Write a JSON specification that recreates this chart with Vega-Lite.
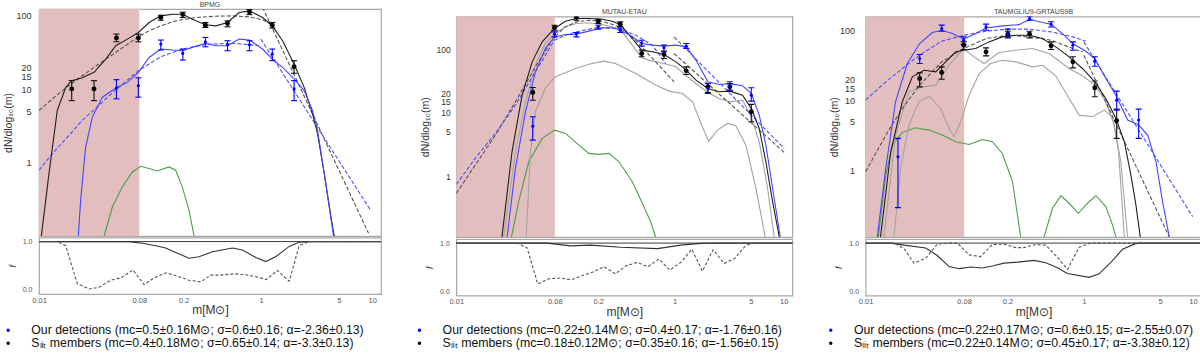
{
"$schema": "https://vega.github.io/schema/vega-lite/v6.json",
"padding": {"left": 2, "top": 0, "right": 0, "bottom": 0},
"spacing": 29.3,
"resolve": {"scale": {"fill": "independent"}, "legend": {"fill": "independent"}},
"config": {
  "view": {"stroke": "#a8a8a8", "strokeWidth": 1.2},
  "font": "Liberation Sans",
  "axis": {"grid": false, "ticks": false, "domain": false, "labelFont": "Liberation Sans", "titleFont": "Liberation Sans", "titleFontWeight": "normal", "labelOverlap": false, "labelFlush": false, "titleColor": "#333", "labelColor": "#333"},
  "title": {"font": "Liberation Sans", "fontWeight": "normal", "color": "#444", "fontSize": 7},
  "legend": {"orient": "none", "legendX": -43, "legendY": 315, "direction": "vertical", "symbolType": "circle", "symbolSize": 12, "symbolStrokeWidth": 0, "labelFont": "Liberation Sans", "labelFontSize": 12.3, "labelColor": "#111", "labelOffset": 17, "rowPadding": -8.5, "labelLimit": 600, "title": null}
},
"datasets": {
"shade": [{"x0": 0.01, "x1": 0.08}],
"p1": [
{"g":"lit","m":0.0197,"v":10.1,"lo":7.0,"hi":13.1},
{"g":"lit","m":0.0313,"v":10.1,"lo":7.0,"hi":13.1},
{"g":"lit","m":0.0498,"v":49.8,"lo":44.4,"hi":56.4},
{"g":"lit","m":0.0785,"v":49.8,"lo":44.4,"hi":56.4},
{"g":"lit","m":0.125,"v":94.9,"lo":87.3,"hi":102},
{"g":"lit","m":0.197,"v":104,"lo":94.9,"hi":112},
{"g":"lit","m":0.315,"v":74.6,"lo":69.5,"hi":81.2},
{"g":"lit","m":0.498,"v":78.8,"lo":70.9,"hi":85.5},
{"g":"lit","m":0.785,"v":113,"lo":104,"hi":122},
{"g":"lit","m":1.26,"v":74.6,"lo":68.1,"hi":81.2},
{"g":"lit","m":1.98,"v":20.3,"lo":16.5,"hi":24.5},
{"g":"ours","m":0.0498,"v":10.4,"lo":7.4,"hi":13.5},
{"g":"ours","m":0.0785,"v":11.2,"lo":7.8,"hi":14.3},
{"g":"ours","m":0.125,"v":41.2,"lo":34.2,"hi":46.8},
{"g":"ours","m":0.197,"v":30.8,"lo":25.0,"hi":35.3},
{"g":"ours","m":0.315,"v":44.4,"lo":37.9,"hi":50.8},
{"g":"ours","m":0.498,"v":40.4,"lo":33.5,"hi":45.8},
{"g":"ours","m":0.785,"v":40.4,"lo":33.5,"hi":45.8},
{"g":"ours","m":1.26,"v":30.2,"lo":24.5,"hi":35.3},
{"g":"ours","m":1.98,"v":10.1,"lo":7.0,"hi":13.1}
],
"p2": [
{"g":"lit","m":0.0502,"v":20.9,"lo":15.8,"hi":25.1},
{"g":"lit","m":0.0794,"v":222,"lo":202,"hi":242},
{"g":"lit","m":0.126,"v":320,"lo":290,"hi":345},
{"g":"lit","m":0.2,"v":280,"lo":257,"hi":301},
{"g":"lit","m":0.318,"v":251,"lo":231,"hi":273},
{"g":"lit","m":0.5,"v":86.5,"lo":76.6,"hi":97.6},
{"g":"lit","m":0.8,"v":83.4,"lo":72.1,"hi":94.1},
{"g":"lit","m":1.28,"v":46.0,"lo":40.3,"hi":53.2},
{"g":"lit","m":2.02,"v":25.8,"lo":20.9,"hi":29.0},
{"g":"lit","m":3.21,"v":25.8,"lo":22.0,"hi":29.0},
{"g":"lit","m":5.05,"v":10.4,"lo":7.2,"hi":13.6},
{"g":"ours","m":0.0502,"v":6.15,"lo":3.7,"hi":8.65},
{"g":"ours","m":0.0794,"v":175,"lo":158,"hi":190},
{"g":"ours","m":0.126,"v":175,"lo":158,"hi":185},
{"g":"ours","m":0.2,"v":228,"lo":210,"hi":242},
{"g":"ours","m":0.318,"v":202,"lo":185,"hi":220},
{"g":"ours","m":0.5,"v":127,"lo":113,"hi":140},
{"g":"ours","m":0.8,"v":107,"lo":91.9,"hi":117},
{"g":"ours","m":1.28,"v":113,"lo":104,"hi":124},
{"g":"ours","m":2.02,"v":24.2,"lo":20.2,"hi":29.0},
{"g":"ours","m":3.21,"v":26.7,"lo":22.8,"hi":30.9},
{"g":"ours","m":5.05,"v":19.0,"lo":15.3,"hi":24.8}
],
"p3": [
{"g":"lit","m":0.0313,"v":20.7,"lo":15.7,"hi":24.9},
{"g":"lit","m":0.0498,"v":25.2,"lo":20.2,"hi":30.4},
{"g":"lit","m":0.0792,"v":62.2,"lo":54.0,"hi":69.5},
{"g":"lit","m":0.127,"v":50.0,"lo":43.7,"hi":57.0},
{"g":"lit","m":0.201,"v":89.6,"lo":79.4,"hi":98.9},
{"g":"lit","m":0.318,"v":89.6,"lo":79.4,"hi":98.9},
{"g":"lit","m":0.501,"v":61.0,"lo":54.0,"hi":69.5},
{"g":"lit","m":0.793,"v":35.9,"lo":29.4,"hi":42.4},
{"g":"lit","m":1.26,"v":15.2,"lo":11.3,"hi":19.0},
{"g":"lit","m":2.0,"v":5.1,"lo":2.85,"hi":7.5},
{"g":"ours","m":0.0198,"v":1.55,"lo":0.288,"hi":2.85},
{"g":"ours","m":0.0313,"v":40.1,"lo":34.0,"hi":45.7},
{"g":"ours","m":0.0498,"v":108,"lo":98.9,"hi":121},
{"g":"ours","m":0.0792,"v":73.5,"lo":63.7,"hi":82},
{"g":"ours","m":0.127,"v":114,"lo":102,"hi":125},
{"g":"ours","m":0.201,"v":91.6,"lo":82,"hi":106},
{"g":"ours","m":0.318,"v":150,"lo":142,"hi":161},
{"g":"ours","m":0.501,"v":125,"lo":114,"hi":135},
{"g":"ours","m":0.793,"v":62.2,"lo":52.7,"hi":69.5},
{"g":"ours","m":1.26,"v":36.7,"lo":31.1,"hi":42.4},
{"g":"ours","m":2.0,"v":10.1,"lo":7.26,"hi":13.6},
{"g":"ours","m":3.18,"v":5.22,"lo":2.85,"hi":7.5}
],
"c1": [
{"k":"bs","m":0.0105,"v":0.1},{"k":"bs","m":0.0123,"v":0.71},{"k":"bs","m":0.0146,"v":5.13},{"k":"bs","m":0.0174,"v":10.6},{"k":"bs","m":0.0197,"v":13.1},{"k":"bs","m":0.0245,"v":14.3},{"k":"bs","m":0.0313,"v":17.0},{"k":"bs","m":0.0399,"v":25.8},{"k":"bs","m":0.0491,"v":39.2},{"k":"bs","m":0.0625,"v":48.2},{"k":"bs","m":0.0785,"v":59.4},{"k":"bs","m":0.098,"v":81.2},{"k":"bs","m":0.125,"v":100},{"k":"bs","m":0.159,"v":105},{"k":"bs","m":0.197,"v":105},{"k":"bs","m":0.24,"v":90.1},{"k":"bs","m":0.315,"v":75.5},{"k":"bs","m":0.391,"v":73.1},{"k":"bs","m":0.498,"v":81.2},{"k":"bs","m":0.634,"v":111},{"k":"bs","m":0.785,"v":117},{"k":"bs","m":1.03,"v":94.9},{"k":"bs","m":1.26,"v":73.1},{"k":"bs","m":1.56,"v":45.8},{"k":"bs","m":1.98,"v":22.1},{"k":"bs","m":2.44,"v":10.6},{"k":"bs","m":2.9,"v":4.62},{"k":"bs","m":3.22,"v":2.48},{"k":"bs","m":3.7,"v":0.71},{"k":"bs","m":4.25,"v":0.183},{"k":"bs","m":4.55,"v":0.1},
{"k":"us","m":0.0226,"v":0.1},{"k":"us","m":0.0237,"v":0.308},{"k":"us","m":0.0263,"v":1.63},{"k":"us","m":0.0302,"v":4.17},{"k":"us","m":0.0372,"v":7.78},{"k":"us","m":0.0491,"v":10.4},{"k":"us","m":0.0625,"v":12.4},{"k":"us","m":0.0785,"v":17.0},{"k":"us","m":0.098,"v":27.1},{"k":"us","m":0.125,"v":35.3},{"k":"us","m":0.159,"v":34.2},{"k":"us","m":0.197,"v":33.5},{"k":"us","m":0.24,"v":37.2},{"k":"us","m":0.315,"v":42.1},{"k":"us","m":0.391,"v":39.2},{"k":"us","m":0.498,"v":39.2},{"k":"us","m":0.634,"v":48.2},{"k":"us","m":0.785,"v":46.8},{"k":"us","m":1.03,"v":35.3},{"k":"us","m":1.26,"v":25.8},{"k":"us","m":1.56,"v":19.9},{"k":"us","m":1.98,"v":13.8},{"k":"us","m":2.44,"v":9.6},{"k":"us","m":2.9,"v":5.13},{"k":"us","m":3.22,"v":2.75},{"k":"us","m":3.7,"v":0.71},{"k":"us","m":4.1,"v":0.25},{"k":"us","m":4.49,"v":0.1},
{"k":"bd","m":0.01,"v":5.13},{"k":"bd","m":0.0132,"v":7.39},{"k":"bd","m":0.0174,"v":10.4},{"k":"bd","m":0.0245,"v":15.3},{"k":"bd","m":0.0347,"v":22.1},{"k":"bd","m":0.0491,"v":31.8},{"k":"bd","m":0.0785,"v":51.9},{"k":"bd","m":0.098,"v":62.5},{"k":"bd","m":0.125,"v":73.1},{"k":"bd","m":0.159,"v":83.0},{"k":"bd","m":0.197,"v":89.1},{"k":"bd","m":0.276,"v":95.9},{"k":"bd","m":0.391,"v":98.9},{"k":"bd","m":0.552,"v":100},{"k":"bd","m":0.78,"v":96.9},{"k":"bd","m":1.03,"v":88.3},{"k":"bd","m":1.26,"v":75.5},
{"k":"bp","m":1.03,"v":130},{"k":"bp","m":9.27,"v":0.109},
{"k":"ud","m":0.01,"v":0.787},{"k":"ud","m":0.0132,"v":1.32},{"k":"ud","m":0.0245,"v":3.76},{"k":"ud","m":0.0491,"v":9.8},{"k":"ud","m":0.0785,"v":17.9},{"k":"ud","m":0.125,"v":27.8},{"k":"ud","m":0.197,"v":35.3},{"k":"ud","m":0.318,"v":40.8},{"k":"ud","m":0.552,"v":42.5},{"k":"ud","m":0.959,"v":39.2},
{"k":"up","m":0.993,"v":48.2},{"k":"up","m":9.73,"v":0.221},
{"k":"g","m":0.0386,"v":0.1},{"k":"g","m":0.0458,"v":0.25},{"k":"g","m":0.0563,"v":0.468},{"k":"g","m":0.0693,"v":0.746},{"k":"g","m":0.0824,"v":0.891},{"k":"g","m":0.098,"v":0.83},{"k":"g","m":0.116,"v":0.77},{"k":"g","m":0.148,"v":0.873},{"k":"g","m":0.17,"v":0.787},{"k":"g","m":0.195,"v":0.468},{"k":"g","m":0.224,"v":0.225},{"k":"g","m":0.249,"v":0.1}
],
"c2": [
{"k":"bs","m":0.0262,"v":0.109},{"k":"bs","m":0.0324,"v":2.42},{"k":"bs","m":0.0401,"v":19.0},{"k":"bs","m":0.0496,"v":63.8},{"k":"bs","m":0.0612,"v":132},{"k":"bs","m":0.0794,"v":215},{"k":"bs","m":0.1,"v":280},{"k":"bs","m":0.126,"v":308},{"k":"bs","m":0.164,"v":308},{"k":"bs","m":0.218,"v":301},{"k":"bs","m":0.269,"v":280},{"k":"bs","m":0.318,"v":248},{"k":"bs","m":0.41,"v":149},{"k":"bs","m":0.5,"v":97.6},{"k":"bs","m":0.627,"v":91.9},{"k":"bs","m":0.8,"v":83.4},{"k":"bs","m":1.03,"v":63.8},{"k":"bs","m":1.28,"v":47.2},{"k":"bs","m":1.57,"v":32.8},{"k":"bs","m":2.02,"v":24.2},{"k":"bs","m":2.56,"v":21.5},{"k":"bs","m":3.21,"v":22.0},{"k":"bs","m":4.2,"v":19.0},{"k":"bs","m":5.05,"v":11.7},{"k":"bs","m":5.97,"v":5.66},{"k":"bs","m":6.87,"v":1.68},{"k":"bs","m":7.92,"v":0.394},{"k":"bs","m":9.12,"v":0.109},
{"k":"us","m":0.0292,"v":0.109},{"k":"us","m":0.0348,"v":1.32},{"k":"us","m":0.0431,"v":10.4},{"k":"us","m":0.0531,"v":44.4},{"k":"us","m":0.0656,"v":104},{"k":"us","m":0.0794,"v":158},{"k":"us","m":0.1,"v":172},{"k":"us","m":0.126,"v":175},{"k":"us","m":0.164,"v":195},{"k":"us","m":0.218,"v":220},{"k":"us","m":0.269,"v":220},{"k":"us","m":0.318,"v":202},{"k":"us","m":0.41,"v":160},{"k":"us","m":0.5,"v":124},{"k":"us","m":0.627,"v":117},{"k":"us","m":0.8,"v":113},{"k":"us","m":1.03,"v":117},{"k":"us","m":1.28,"v":110},{"k":"us","m":1.57,"v":68},{"k":"us","m":2.02,"v":30.9},{"k":"us","m":2.56,"v":28.0},{"k":"us","m":3.21,"v":28.9},{"k":"us","m":4.2,"v":26.7},{"k":"us","m":5.05,"v":20.2},{"k":"us","m":5.97,"v":9.2},{"k":"us","m":6.87,"v":3.08},{"k":"us","m":7.92,"v":0.638},{"k":"us","m":9.31,"v":0.109},
{"k":"r1","m":0.0272,"v":0.109},{"k":"r1","m":0.0348,"v":2.42},{"k":"r1","m":0.0431,"v":14.9},{"k":"r1","m":0.0531,"v":56.6},{"k":"r1","m":0.0656,"v":124},{"k":"r1","m":0.0794,"v":179},{"k":"r1","m":0.1,"v":228},{"k":"r1","m":0.126,"v":257},{"k":"r1","m":0.164,"v":264},{"k":"r1","m":0.218,"v":248},{"k":"r1","m":0.318,"v":210},{"k":"r1","m":0.41,"v":117},{"k":"r1","m":0.5,"v":73.8},{"k":"r1","m":0.627,"v":65.5},{"k":"r1","m":0.8,"v":60.1},{"k":"r1","m":1.03,"v":53.2},{"k":"r1","m":1.28,"v":38.4},{"k":"r1","m":1.57,"v":29.0},{"k":"r1","m":2.02,"v":20.9},{"k":"r1","m":2.56,"v":16.8},{"k":"r1","m":3.21,"v":14.9},{"k":"r1","m":4.2,"v":15.8},{"k":"r1","m":5.05,"v":8.65},{"k":"r1","m":5.97,"v":3.48},{"k":"r1","m":7.13,"v":0.638},{"k":"r1","m":8.2,"v":0.109},
{"k":"r2","m":0.0437,"v":0.109},{"k":"r2","m":0.0479,"v":2.42},{"k":"r2","m":0.0531,"v":10.4},{"k":"r2","m":0.0656,"v":24.8},{"k":"r2","m":0.081,"v":37.0},{"k":"r2","m":0.124,"v":50.1},{"k":"r2","m":0.164,"v":58.6},{"k":"r2","m":0.225,"v":65.5},{"k":"r2","m":0.288,"v":60.1},{"k":"r2","m":0.441,"v":41.8},{"k":"r2","m":0.671,"v":27.4},{"k":"r2","m":0.891,"v":22.0},{"k":"r2","m":1.18,"v":20.2},{"k":"r2","m":1.46,"v":14.9},{"k":"r2","m":1.8,"v":6.01},{"k":"r2","m":2.05,"v":3.57},{"k":"r2","m":2.48,"v":5.32},{"k":"r2","m":3.06,"v":6.79},{"k":"r2","m":3.65,"v":6.24},{"k":"r2","m":4.51,"v":3.08},{"k":"r2","m":5.57,"v":0.638},{"k":"r2","m":6.78,"v":0.109},
{"k":"g","m":0.032,"v":0.109},{"k":"g","m":0.0373,"v":0.394},{"k":"g","m":0.0461,"v":1.68},{"k":"g","m":0.0612,"v":3.94},{"k":"g","m":0.0794,"v":5.32},{"k":"g","m":0.1,"v":4.72},{"k":"g","m":0.133,"v":3.08},{"k":"g","m":0.164,"v":2.28},{"k":"g","m":0.203,"v":2.2},{"k":"g","m":0.251,"v":2.28},{"k":"g","m":0.31,"v":1.68},{"k":"g","m":0.41,"v":0.814},{"k":"g","m":0.5,"v":0.394},{"k":"g","m":0.604,"v":0.19},{"k":"g","m":0.671,"v":0.109},
{"k":"bd","m":0.01,"v":0.532},{"k":"bd","m":0.0149,"v":1.49},{"k":"bd","m":0.0228,"v":4.43},{"k":"bd","m":0.0348,"v":14.9},{"k":"bd","m":0.0531,"v":53.2},{"k":"bd","m":0.0794,"v":158},{"k":"bd","m":0.1,"v":228},{"k":"bd","m":0.126,"v":273},{"k":"bd","m":0.164,"v":290},{"k":"bd","m":0.218,"v":280},{"k":"bd","m":0.31,"v":228},{"k":"bd","m":0.441,"v":140},{"k":"bd","m":0.627,"v":72.1},{"k":"bd","m":0.99,"v":30.9},
{"k":"ud","m":0.01,"v":0.738},{"k":"ud","m":0.0149,"v":1.9},{"k":"ud","m":0.0228,"v":4.72},{"k":"ud","m":0.0348,"v":13.2},{"k":"ud","m":0.0531,"v":44.4},{"k":"ud","m":0.0794,"v":140},{"k":"ud","m":0.1,"v":168},{"k":"ud","m":0.126,"v":190},{"k":"ud","m":0.189,"v":220},{"k":"ud","m":0.31,"v":215},{"k":"ud","m":0.441,"v":168},{"k":"ud","m":0.627,"v":117},{"k":"ud","m":0.83,"v":60.1},
{"k":"bp","m":0.99,"v":86.5},{"k":"bp","m":10.1,"v":2.37},
{"k":"up","m":0.99,"v":158},{"k":"up","m":10.1,"v":2.74}
],
"c3": [
{"k":"us","m":0.0128,"v":0.109},{"k":"us","m":0.0153,"v":1.06},{"k":"us","m":0.0188,"v":9.57},{"k":"us","m":0.0241,"v":34.0},{"k":"us","m":0.0313,"v":65.8},{"k":"us","m":0.0409,"v":94.6},{"k":"us","m":0.0498,"v":102},{"k":"us","m":0.0624,"v":91.6},{"k":"us","m":0.0792,"v":75.9},{"k":"us","m":0.102,"v":91.6},{"k":"us","m":0.127,"v":110},{"k":"us","m":0.179,"v":118},{"k":"us","m":0.255,"v":123},{"k":"us","m":0.318,"v":147},{"k":"us","m":0.418,"v":132},{"k":"us","m":0.501,"v":125},{"k":"us","m":0.637,"v":91.6},{"k":"us","m":0.793,"v":65.8},{"k":"us","m":1.04,"v":51.0},{"k":"us","m":1.26,"v":40.1},{"k":"us","m":1.59,"v":20.7},{"k":"us","m":2.0,"v":11.3},{"k":"us","m":2.52,"v":5.22},{"k":"us","m":3.18,"v":4.43},{"k":"us","m":3.84,"v":3.18},{"k":"us","m":4.58,"v":1.32},{"k":"us","m":5.27,"v":0.351},{"k":"us","m":6.07,"v":0.109},
{"k":"bs","m":0.0137,"v":0.109},{"k":"bs","m":0.017,"v":1.83},{"k":"bs","m":0.0217,"v":9.57},{"k":"bs","m":0.0268,"v":21.9},{"k":"bs","m":0.0343,"v":27.2},{"k":"bs","m":0.0439,"v":25.8},{"k":"bs","m":0.0542,"v":35.9},{"k":"bs","m":0.067,"v":50.0},{"k":"bs","m":0.0792,"v":52.7},{"k":"bs","m":0.102,"v":55.7},{"k":"bs","m":0.135,"v":69.5},{"k":"bs","m":0.179,"v":82.0},{"k":"bs","m":0.238,"v":86.6},{"k":"bs","m":0.318,"v":86.6},{"k":"bs","m":0.418,"v":77.6},{"k":"bs","m":0.553,"v":58.9},{"k":"bs","m":0.733,"v":42.4},{"k":"bs","m":0.972,"v":28.8},{"k":"bs","m":1.26,"v":18.5},{"k":"bs","m":1.59,"v":10.7},{"k":"bs","m":1.97,"v":5.52},{"k":"bs","m":2.35,"v":2.55},{"k":"bs","m":2.7,"v":0.847},{"k":"bs","m":3.0,"v":0.315},{"k":"bs","m":3.29,"v":0.109},
{"k":"r1","m":0.0147,"v":0.109},{"k":"r1","m":0.0188,"v":3.18},{"k":"r1","m":0.025,"v":13.3},{"k":"r1","m":0.0331,"v":15.7},{"k":"r1","m":0.0439,"v":16.6},{"k":"r1","m":0.0582,"v":32.1},{"k":"r1","m":0.0792,"v":55.7},{"k":"r1","m":0.0986,"v":42.4},{"k":"r1","m":0.122,"v":34.0},{"k":"r1","m":0.167,"v":48.9},{"k":"r1","m":0.238,"v":52.7},{"k":"r1","m":0.338,"v":55.7},{"k":"r1","m":0.481,"v":47.3},{"k":"r1","m":0.733,"v":28.8},{"k":"r1","m":0.972,"v":22.6},{"k":"r1","m":1.26,"v":16.6},{"k":"r1","m":1.59,"v":9.57},{"k":"r1","m":1.9,"v":4.43},{"k":"r1","m":2.18,"v":1.32},{"k":"r1","m":2.52,"v":0.109},
{"k":"r2","m":0.0182,"v":0.109},{"k":"r2","m":0.0209,"v":1.06},{"k":"r2","m":0.025,"v":4.43},{"k":"r2","m":0.0308,"v":9.57},{"k":"r2","m":0.0381,"v":11.5},{"k":"r2","m":0.0487,"v":7.68},{"k":"r2","m":0.0582,"v":3.96},{"k":"r2","m":0.0646,"v":3.01},{"k":"r2","m":0.0744,"v":4.94},{"k":"r2","m":0.0888,"v":11.9},{"k":"r2","m":0.11,"v":24.4},{"k":"r2","m":0.14,"v":34.0},{"k":"r2","m":0.179,"v":37.9},{"k":"r2","m":0.238,"v":35.9},{"k":"r2","m":0.338,"v":30.4},{"k":"r2","m":0.418,"v":32.1},{"k":"r2","m":0.553,"v":22.6},{"k":"r2","m":0.733,"v":10.7},{"k":"r2","m":0.906,"v":6.15},{"k":"r2","m":1.2,"v":5.84},{"k":"r2","m":1.54,"v":7.26},{"k":"r2","m":1.83,"v":5.84},{"k":"r2","m":2.08,"v":1.83},{"k":"r2","m":2.35,"v":0.109},
{"k":"g","m":0.0131,"v":0.109},{"k":"g","m":0.0153,"v":0.847},{"k":"g","m":0.0176,"v":2.28},{"k":"g","m":0.0217,"v":3.48},{"k":"g","m":0.0287,"v":4.06},{"k":"g","m":0.0381,"v":3.75},{"k":"g","m":0.0505,"v":3.18},{"k":"g","m":0.067,"v":2.55},{"k":"g","m":0.0888,"v":2.33},{"k":"g","m":0.117,"v":2.75},{"k":"g","m":0.145,"v":2.55},{"k":"g","m":0.179,"v":1.73},{"k":"g","m":0.222,"v":0.681},{"k":"g","m":0.264,"v":0.109},
{"k":"g2","m":0.432,"v":0.109},{"k":"g2","m":0.516,"v":0.282},{"k":"g2","m":0.616,"v":0.428},{"k":"g2","m":0.733,"v":0.333},{"k":"g2","m":0.893,"v":0.239},{"k":"g2","m":1.08,"v":0.333},{"k":"g2","m":1.29,"v":0.428},{"k":"g2","m":1.59,"v":0.298},{"k":"g2","m":1.83,"v":0.163},{"k":"g2","m":1.97,"v":0.109},
{"k":"bd","m":0.01,"v":0.946},{"k":"bd","m":0.0153,"v":3.18},{"k":"bd","m":0.0217,"v":7.68},{"k":"bd","m":0.0313,"v":16.6},{"k":"bd","m":0.0498,"v":35.9},{"k":"bd","m":0.0792,"v":55.7},{"k":"bd","m":0.127,"v":77.6},{"k":"bd","m":0.201,"v":86.6},{"k":"bd","m":0.318,"v":82.0},{"k":"bd","m":0.501,"v":73.5},{"k":"bd","m":0.793,"v":55.7},{"k":"bd","m":0.972,"v":50.0},
{"k":"bp","m":1.0,"v":44.8},{"k":"bp","m":6.07,"v":0.109},
{"k":"ud","m":0.01,"v":10.1},{"k":"ud","m":0.0153,"v":18.5},{"k":"ud","m":0.0217,"v":28.8},{"k":"ud","m":0.0313,"v":44.8},{"k":"ud","m":0.0498,"v":71.1},{"k":"ud","m":0.0792,"v":86.6},{"k":"ud","m":0.127,"v":98.9},{"k":"ud","m":0.201,"v":106},{"k":"ud","m":0.318,"v":106},{"k":"ud","m":0.501,"v":96.8},{"k":"ud","m":0.793,"v":82.0},{"k":"ud","m":1.04,"v":71.1},
{"k":"up","m":1.0,"v":69.5},{"k":"up","m":9.93,"v":0.214}
],
"f1": [
{"k":"s","m":0.01,"f":1},{"k":"s","m":0.0647,"f":1},{"k":"s","m":0.0853,"f":0.965},{"k":"s","m":0.1125,"f":0.915},{"k":"s","m":0.138,"f":0.866},{"k":"s","m":0.17,"f":0.775},{"k":"s","m":0.224,"f":0.655},{"k":"s","m":0.276,"f":0.683},{"k":"s","m":0.364,"f":0.789},{"k":"s","m":0.552,"f":0.866},{"k":"s","m":0.679,"f":0.824},{"k":"s","m":0.895,"f":0.669},{"k":"s","m":1.1,"f":0.585},{"k":"s","m":1.36,"f":0.69},{"k":"s","m":1.79,"f":0.9},{"k":"s","m":2.2,"f":0.986},{"k":"s","m":2.8,"f":1},{"k":"s","m":12,"f":1},
{"k":"d","m":0.01,"f":1},{"k":"d","m":0.0146,"f":1},{"k":"d","m":0.0174,"f":0.915},{"k":"d","m":0.0221,"f":0.127},{"k":"d","m":0.0282,"f":0.014},{"k":"d","m":0.0347,"f":0.049},{"k":"d","m":0.0442,"f":0.197},{"k":"d","m":0.0544,"f":0.246},{"k":"d","m":0.0703,"f":0.408},{"k":"d","m":0.0883,"f":0.106},{"k":"d","m":0.1086,"f":0.246},{"k":"d","m":0.14,"f":0.352},{"k":"d","m":0.176,"f":0.282},{"k":"d","m":0.224,"f":0.197},{"k":"d","m":0.286,"f":0.162},{"k":"d","m":0.352,"f":0.303},{"k":"d","m":0.433,"f":0.303},{"k":"d","m":0.571,"f":0.331},{"k":"d","m":0.728,"f":0.31},{"k":"d","m":0.895,"f":0.268},{"k":"d","m":1.117,"f":0.211},{"k":"d","m":1.4,"f":0.401},{"k":"d","m":1.79,"f":0.176},{"k":"d","m":2.2,"f":0.915},{"k":"d","m":2.7,"f":1},{"k":"d","m":12,"f":1}
],
"f2": [
{"k":"s","m":0.01,"f":1},{"k":"s","m":0.068,"f":1},{"k":"s","m":0.111,"f":0.942},{"k":"s","m":0.17,"f":0.957},{"k":"s","m":0.321,"f":0.914},{"k":"s","m":0.697,"f":0.885},{"k":"s","m":1.14,"f":0.957},{"k":"s","m":1.74,"f":0.993},{"k":"s","m":2.5,"f":1},{"k":"s","m":12,"f":1},
{"k":"d","m":0.01,"f":1},{"k":"d","m":0.0361,"f":1},{"k":"d","m":0.0446,"f":0.899},{"k":"d","m":0.0558,"f":0.151},{"k":"d","m":0.0705,"f":0.259},{"k":"d","m":0.0902,"f":0.273},{"k":"d","m":0.113,"f":0.237},{"k":"d","m":0.143,"f":0.324},{"k":"d","m":0.182,"f":0.403},{"k":"d","m":0.225,"f":0.511},{"k":"d","m":0.288,"f":0.36},{"k":"d","m":0.356,"f":0.525},{"k":"d","m":0.456,"f":0.597},{"k":"d","m":0.571,"f":0.511},{"k":"d","m":0.721,"f":0.669},{"k":"d","m":0.904,"f":0.439},{"k":"d","m":1.14,"f":0.597},{"k":"d","m":1.44,"f":0.871},{"k":"d","m":1.8,"f":0.417},{"k":"d","m":2.26,"f":0.863},{"k":"d","m":2.85,"f":0.576},{"k":"d","m":3.57,"f":0.683},{"k":"d","m":4.51,"f":0.957},{"k":"d","m":5.37,"f":1},{"k":"d","m":12,"f":1}
],
"f3": [
{"k":"s","m":0.01,"f":1},{"k":"s","m":0.017,"f":1},{"k":"s","m":0.0225,"f":0.957},{"k":"s","m":0.0355,"f":0.899},{"k":"s","m":0.0454,"f":0.741},{"k":"s","m":0.0582,"f":0.511},{"k":"s","m":0.0718,"f":0.468},{"k":"s","m":0.0919,"f":0.504},{"k":"s","m":0.117,"f":0.482},{"k":"s","m":0.145,"f":0.525},{"k":"s","m":0.186,"f":0.583},{"k":"s","m":0.246,"f":0.604},{"k":"s","m":0.35,"f":0.64},{"k":"s","m":0.448,"f":0.59},{"k":"s","m":0.573,"f":0.489},{"k":"s","m":0.708,"f":0.367},{"k":"s","m":1.12,"f":0.288},{"k":"s","m":1.38,"f":0.36},{"k":"s","m":1.77,"f":0.597},{"k":"s","m":2.26,"f":0.871},{"k":"s","m":2.9,"f":0.978},{"k":"s","m":3.2,"f":1},{"k":"s","m":12,"f":1},
{"k":"d","m":0.01,"f":1},{"k":"d","m":0.0182,"f":1},{"k":"d","m":0.0225,"f":0.885},{"k":"d","m":0.0278,"f":0.583},{"k":"d","m":0.0355,"f":0.683},{"k":"d","m":0.0454,"f":0.978},{"k":"d","m":0.0582,"f":1},{"k":"d","m":0.0694,"f":1},{"k":"d","m":0.0888,"f":0.755},{"k":"d","m":0.113,"f":0.719},{"k":"d","m":0.145,"f":0.971},{"k":"d","m":0.186,"f":0.978},{"k":"d","m":0.238,"f":0.906},{"k":"d","m":0.284,"f":0.906},{"k":"d","m":0.363,"f":0.971},{"k":"d","m":0.448,"f":0.957},{"k":"d","m":0.573,"f":0.705},{"k":"d","m":0.708,"f":0.453},{"k":"d","m":0.906,"f":0.914},{"k":"d","m":1.16,"f":1},{"k":"d","m":12,"f":1}
]
},
"hconcat": [
{
 "bounds": "flush",
 "spacing": 1.5,
 "resolve": {"scale": {"fill": "shared"}, "legend": {"fill": "shared"}},
 "vconcat": [
 {
  "width": 342, "height": 227,
  "title": {"text": "BPMG", "offset": 1},
  "layer": [
   {"data": {"name": "shade"}, "mark": {"type": "rect", "color": "#e3bebe"}, "encoding": {"x": {"field": "x0", "type": "quantitative", "scale": {"type": "log", "domain": [0.01, 12], "nice": false}, "axis": null}, "x2": {"field": "x1"}}},
   {"data": {"name": "c1"}, "transform": [{"filter": {"field": "k", "oneOf": ["g", "g2"]}}], "mark": {"type": "line", "color": "#4aa04a", "strokeWidth": 1.1, "clip": true}, "encoding": {"x": {"field": "m", "type": "quantitative", "scale": {"type": "log", "domain": [0.01, 12], "nice": false}, "axis": null}, "y": {"field": "v", "type": "quantitative", "scale": {"type": "log", "domain": [0.1, 124], "nice": false}, "axis": {"values": [1, 5, 10, 15, 20, 100], "format": "d", "title": "dN/dlog₁₀(m)", "titleFontSize": 10.5, "labelFontSize": 9, "labelPadding": 8, "minExtent": 22, "maxExtent": 22, "titlePadding": 4}}, "detail": {"field": "k"}}},
   {"data": {"name": "c1"}, "transform": [{"filter": {"field": "k", "oneOf": ["bd", "bp"]}}], "mark": {"type": "line", "color": "#555555", "strokeWidth": 1.1, "strokeDash": [4, 2], "clip": true}, "encoding": {"x": {"field": "m", "type": "quantitative", "axis": null}, "y": {"field": "v", "type": "quantitative"}, "detail": {"field": "k"}}},
   {"data": {"name": "c1"}, "transform": [{"filter": {"field": "k", "oneOf": ["ud", "up"]}}], "mark": {"type": "line", "color": "#4f4fff", "strokeWidth": 1.1, "strokeDash": [4, 2], "clip": true}, "encoding": {"x": {"field": "m", "type": "quantitative", "axis": null}, "y": {"field": "v", "type": "quantitative"}, "detail": {"field": "k"}}},
   {"data": {"name": "c1"}, "transform": [{"filter": "datum.k == 'bs'"}], "mark": {"type": "line", "color": "#1e1e1e", "strokeWidth": 1.1, "clip": true}, "encoding": {"x": {"field": "m", "type": "quantitative", "axis": null}, "y": {"field": "v", "type": "quantitative"}}},
   {"data": {"name": "c1"}, "transform": [{"filter": "datum.k == 'us'"}], "mark": {"type": "line", "color": "#4646ff", "strokeWidth": 1.1, "clip": true}, "encoding": {"x": {"field": "m", "type": "quantitative", "axis": null}, "y": {"field": "v", "type": "quantitative"}}},
   {"data": {"name": "p1"}, "transform": [{"filter": "datum.g == 'lit'"}], "mark": {"type": "rule", "color": "#111111", "strokeWidth": 1.1, "clip": true}, "encoding": {"x": {"field": "m", "type": "quantitative", "axis": null}, "y": {"field": "lo", "type": "quantitative"}, "y2": {"field": "hi"}}},
   {"data": {"name": "p1"}, "transform": [{"filter": "datum.g == 'ours'"}], "mark": {"type": "rule", "color": "#0000ff", "strokeWidth": 1.1, "clip": true}, "encoding": {"x": {"field": "m", "type": "quantitative", "axis": null}, "y": {"field": "lo", "type": "quantitative"}, "y2": {"field": "hi"}}},
   {"data": {"name": "p1"}, "transform": [{"filter": "datum.g == 'lit'"}, {"fold": ["lo", "hi"], "as": ["w", "e"]}], "mark": {"type": "point", "shape": "M-1,0L1,0", "filled": false, "color": "#111111", "size": 36, "strokeWidth": 1.1, "opacity": 1, "clip": true}, "encoding": {"x": {"field": "m", "type": "quantitative", "axis": null}, "y": {"field": "e", "type": "quantitative"}}},
   {"data": {"name": "p1"}, "transform": [{"filter": "datum.g == 'ours'"}, {"fold": ["lo", "hi"], "as": ["w", "e"]}], "mark": {"type": "point", "shape": "M-1,0L1,0", "filled": false, "color": "#0000ff", "size": 36, "strokeWidth": 1.1, "opacity": 1, "clip": true}, "encoding": {"x": {"field": "m", "type": "quantitative", "axis": null}, "y": {"field": "e", "type": "quantitative"}}},
   {"data": {"name": "p1"}, "transform": [{"filter": "datum.g == 'lit'"}], "mark": {"type": "point", "filled": true, "size": 24, "opacity": 1, "strokeWidth": 0, "clip": true}, "encoding": {"x": {"field": "m", "type": "quantitative", "axis": null}, "y": {"field": "v", "type": "quantitative"}, "fill": {"field": "g", "type": "nominal", "scale": {"domain": ["ours", "lit"], "range": ["#0000ff", "#000000"]}, "legend": {"legendX": -37, "labelExpr": "datum.value == 'ours' ? 'Our detections (mc=0.5±0.16M⊙; σ=0.6±0.16; α=-2.36±0.13)' : 'Sₗᵢₜ members (mc=0.4±0.18M⊙; σ=0.65±0.14; α=-3.3±0.13)'"}}}},
   {"data": {"name": "p1"}, "transform": [{"filter": "datum.g == 'ours'"}], "mark": {"type": "point", "filled": true, "size": 10, "opacity": 1, "strokeWidth": 0, "clip": true}, "encoding": {"x": {"field": "m", "type": "quantitative", "axis": null}, "y": {"field": "v", "type": "quantitative"}, "fill": {"field": "g", "type": "nominal", "scale": {"domain": ["ours", "lit"], "range": ["#0000ff", "#000000"]}, "legend": {"legendX": -37, "labelExpr": "datum.value == 'ours' ? 'Our detections (mc=0.5±0.16M⊙; σ=0.6±0.16; α=-2.36±0.13)' : 'Sₗᵢₜ members (mc=0.4±0.18M⊙; σ=0.65±0.14; α=-3.3±0.13)'"}}}}
  ]
 },
 {
  "width": 342, "height": 56.5,
  "data": {"name": "f1"},
  "layer": [
   {"data": {"values": [{"f": 1}]}, "mark": {"type": "rule", "color": "#222222", "strokeWidth": 0.9}, "encoding": {"y": {"field": "f", "type": "quantitative", "scale": {"domain": [-0.09, 1.085], "nice": false, "zero": false}, "axis": {"values": [0, 0.5, 1], "format": ".1f", "labelFontSize": 7, "labelColor": "#555", "title": "f", "titleFontStyle": "italic", "titleFontSize": 9, "labelPadding": 7, "minExtent": 22, "maxExtent": 22, "titlePadding": 0}}}},
   {"transform": [{"filter": "datum.k == 's'"}], "mark": {"type": "line", "color": "#333333", "strokeWidth": 1.1}, "encoding": {"x": {"field": "m", "type": "quantitative", "scale": {"type": "log", "domain": [0.01, 12], "nice": false}, "axis": {"values": [0.01, 0.08, 0.2, 1, 5, 10], "format": "~g", "labelFontSize": 7.5, "labelColor": "#555", "labelPadding": 2, "title": "m[M⊙]", "titleFontSize": 12, "titlePadding": 1}}, "y": {"field": "f", "type": "quantitative"}}},
   {"transform": [{"filter": "datum.k == 'd'"}], "mark": {"type": "line", "color": "#555555", "strokeWidth": 1.1, "strokeDash": [3, 2]}, "encoding": {"x": {"field": "m", "type": "quantitative"}, "y": {"field": "f", "type": "quantitative"}}}
  ]
 }
 ]
},
{
 "bounds": "flush",
 "spacing": 1.5,
 "resolve": {"scale": {"fill": "shared"}, "legend": {"fill": "shared"}},
 "vconcat": [
 {"width": 336, "height": 5.2, "view": {"stroke": null}, "data": {"values": []}, "mark": "point"},
 {
  "width": 336, "height": 220.5,
  "title": {"text": "MUTAU-ETAU", "offset": 2},
  "layer": [
   {"data": {"name": "shade"}, "mark": {"type": "rect", "color": "#e3bebe"}, "encoding": {"x": {"field": "x0", "type": "quantitative", "scale": {"type": "log", "domain": [0.01, 12], "nice": false}, "axis": null}, "x2": {"field": "x1"}}},
   {"data": {"name": "c2"}, "transform": [{"filter": {"field": "k", "oneOf": ["g", "g2"]}}], "mark": {"type": "line", "color": "#4aa04a", "strokeWidth": 1.1, "clip": true}, "encoding": {"x": {"field": "m", "type": "quantitative", "scale": {"type": "log", "domain": [0.01, 12], "nice": false}, "axis": null}, "y": {"field": "v", "type": "quantitative", "scale": {"type": "log", "domain": [0.109, 332], "nice": false}, "axis": {"values": [1, 5, 10, 15, 20, 100], "format": "d", "title": "dN/dlog₁₀(m)", "titleFontSize": 10.5, "labelFontSize": 8.5, "labelPadding": 6, "minExtent": 22, "maxExtent": 22, "titlePadding": 4}}, "detail": {"field": "k"}}},
   {"data": {"name": "c2"}, "transform": [{"filter": {"field": "k", "oneOf": ["r1", "r2"]}}], "mark": {"type": "line", "color": "#a3a3a3", "strokeWidth": 1.1, "clip": true}, "encoding": {"x": {"field": "m", "type": "quantitative", "axis": null}, "y": {"field": "v", "type": "quantitative"}, "detail": {"field": "k"}}},
   {"data": {"name": "c2"}, "transform": [{"filter": {"field": "k", "oneOf": ["bd", "bp"]}}], "mark": {"type": "line", "color": "#555555", "strokeWidth": 1.1, "strokeDash": [4, 2], "clip": true}, "encoding": {"x": {"field": "m", "type": "quantitative", "axis": null}, "y": {"field": "v", "type": "quantitative"}, "detail": {"field": "k"}}},
   {"data": {"name": "c2"}, "transform": [{"filter": {"field": "k", "oneOf": ["ud", "up"]}}], "mark": {"type": "line", "color": "#4f4fff", "strokeWidth": 1.1, "strokeDash": [4, 2], "clip": true}, "encoding": {"x": {"field": "m", "type": "quantitative", "axis": null}, "y": {"field": "v", "type": "quantitative"}, "detail": {"field": "k"}}},
   {"data": {"name": "c2"}, "transform": [{"filter": "datum.k == 'bs'"}], "mark": {"type": "line", "color": "#1e1e1e", "strokeWidth": 1.1, "clip": true}, "encoding": {"x": {"field": "m", "type": "quantitative", "axis": null}, "y": {"field": "v", "type": "quantitative"}}},
   {"data": {"name": "c2"}, "transform": [{"filter": "datum.k == 'us'"}], "mark": {"type": "line", "color": "#4646ff", "strokeWidth": 1.1, "clip": true}, "encoding": {"x": {"field": "m", "type": "quantitative", "axis": null}, "y": {"field": "v", "type": "quantitative"}}},
   {"data": {"name": "p2"}, "transform": [{"filter": "datum.g == 'lit'"}], "mark": {"type": "rule", "color": "#111111", "strokeWidth": 1.1, "clip": true}, "encoding": {"x": {"field": "m", "type": "quantitative", "axis": null}, "y": {"field": "lo", "type": "quantitative"}, "y2": {"field": "hi"}}},
   {"data": {"name": "p2"}, "transform": [{"filter": "datum.g == 'ours'"}], "mark": {"type": "rule", "color": "#0000ff", "strokeWidth": 1.1, "clip": true}, "encoding": {"x": {"field": "m", "type": "quantitative", "axis": null}, "y": {"field": "lo", "type": "quantitative"}, "y2": {"field": "hi"}}},
   {"data": {"name": "p2"}, "transform": [{"filter": "datum.g == 'lit'"}, {"fold": ["lo", "hi"], "as": ["w", "e"]}], "mark": {"type": "point", "shape": "M-1,0L1,0", "filled": false, "color": "#111111", "size": 36, "strokeWidth": 1.1, "opacity": 1, "clip": true}, "encoding": {"x": {"field": "m", "type": "quantitative", "axis": null}, "y": {"field": "e", "type": "quantitative"}}},
   {"data": {"name": "p2"}, "transform": [{"filter": "datum.g == 'ours'"}, {"fold": ["lo", "hi"], "as": ["w", "e"]}], "mark": {"type": "point", "shape": "M-1,0L1,0", "filled": false, "color": "#0000ff", "size": 36, "strokeWidth": 1.1, "opacity": 1, "clip": true}, "encoding": {"x": {"field": "m", "type": "quantitative", "axis": null}, "y": {"field": "e", "type": "quantitative"}}},
   {"data": {"name": "p2"}, "transform": [{"filter": "datum.g == 'lit'"}], "mark": {"type": "point", "filled": true, "size": 24, "opacity": 1, "strokeWidth": 0, "clip": true}, "encoding": {"x": {"field": "m", "type": "quantitative", "axis": null}, "y": {"field": "v", "type": "quantitative"}, "fill": {"field": "g", "type": "nominal", "scale": {"domain": ["ours", "lit"], "range": ["#0000ff", "#000000"]}, "legend": {"labelExpr": "datum.value == 'ours' ? 'Our detections (mc=0.22±0.14M⊙; σ=0.4±0.17; α=-1.76±0.16)' : 'Sₗᵢₜ members (mc=0.18±0.12M⊙; σ=0.35±0.16; α=-1.56±0.15)'"}}}},
   {"data": {"name": "p2"}, "transform": [{"filter": "datum.g == 'ours'"}], "mark": {"type": "point", "filled": true, "size": 10, "opacity": 1, "strokeWidth": 0, "clip": true}, "encoding": {"x": {"field": "m", "type": "quantitative", "axis": null}, "y": {"field": "v", "type": "quantitative"}, "fill": {"field": "g", "type": "nominal", "scale": {"domain": ["ours", "lit"], "range": ["#0000ff", "#000000"]}, "legend": {"labelExpr": "datum.value == 'ours' ? 'Our detections (mc=0.22±0.14M⊙; σ=0.4±0.17; α=-1.76±0.16)' : 'Sₗᵢₜ members (mc=0.18±0.12M⊙; σ=0.35±0.16; α=-1.56±0.15)'"}}}}
  ]
 },
 {
  "width": 336, "height": 56.5,
  "data": {"name": "f2"},
  "layer": [
   {"data": {"values": [{"f": 1}]}, "mark": {"type": "rule", "color": "#222222", "strokeWidth": 0.9}, "encoding": {"y": {"field": "f", "type": "quantitative", "scale": {"domain": [-0.09, 1.085], "nice": false, "zero": false}, "axis": {"values": [0, 0.5, 1], "format": ".1f", "labelFontSize": 7, "labelColor": "#555", "title": "f", "titleFontStyle": "italic", "titleFontSize": 9, "labelPadding": 7, "minExtent": 22, "maxExtent": 22, "titlePadding": 0}}}},
   {"transform": [{"filter": "datum.k == 's'"}], "mark": {"type": "line", "color": "#333333", "strokeWidth": 1.1}, "encoding": {"x": {"field": "m", "type": "quantitative", "scale": {"type": "log", "domain": [0.01, 12], "nice": false}, "axis": {"values": [0.01, 0.08, 0.2, 1, 5, 10], "format": "~g", "labelFontSize": 7.5, "labelColor": "#555", "labelPadding": 2, "title": "m[M⊙]", "titleFontSize": 12, "titlePadding": 1}}, "y": {"field": "f", "type": "quantitative"}}},
   {"transform": [{"filter": "datum.k == 'd'"}], "mark": {"type": "line", "color": "#555555", "strokeWidth": 1.1, "strokeDash": [3, 2]}, "encoding": {"x": {"field": "m", "type": "quantitative"}, "y": {"field": "f", "type": "quantitative"}}}
  ]
 }
 ]
},
{
 "bounds": "flush",
 "spacing": 1.5,
 "resolve": {"scale": {"fill": "shared"}, "legend": {"fill": "shared"}},
 "vconcat": [
 {"width": 336, "height": 5.2, "view": {"stroke": null}, "data": {"values": []}, "mark": "point"},
 {
  "width": 336, "height": 220.5,
  "title": {"text": "TAUMGLIU9-GRTAUS9B", "offset": 2},
  "layer": [
   {"data": {"name": "shade"}, "mark": {"type": "rect", "color": "#e3bebe"}, "encoding": {"x": {"field": "x0", "type": "quantitative", "scale": {"type": "log", "domain": [0.01, 12], "nice": false}, "axis": null}, "x2": {"field": "x1"}}},
   {"data": {"name": "c3"}, "transform": [{"filter": {"field": "k", "oneOf": ["g", "g2"]}}], "mark": {"type": "line", "color": "#4aa04a", "strokeWidth": 1.1, "clip": true}, "encoding": {"x": {"field": "m", "type": "quantitative", "scale": {"type": "log", "domain": [0.01, 12], "nice": false}, "axis": null}, "y": {"field": "v", "type": "quantitative", "scale": {"type": "log", "domain": [0.109, 161], "nice": false}, "axis": {"values": [1, 5, 10, 15, 20, 100], "format": "d", "title": "dN/dlog₁₀(m)", "titleFontSize": 10.5, "labelFontSize": 9, "labelPadding": 11, "minExtent": 22, "maxExtent": 22, "titlePadding": 4}}, "detail": {"field": "k"}}},
   {"data": {"name": "c3"}, "transform": [{"filter": {"field": "k", "oneOf": ["r1", "r2"]}}], "mark": {"type": "line", "color": "#a3a3a3", "strokeWidth": 1.1, "clip": true}, "encoding": {"x": {"field": "m", "type": "quantitative", "axis": null}, "y": {"field": "v", "type": "quantitative"}, "detail": {"field": "k"}}},
   {"data": {"name": "c3"}, "transform": [{"filter": {"field": "k", "oneOf": ["bd", "bp"]}}], "mark": {"type": "line", "color": "#555555", "strokeWidth": 1.1, "strokeDash": [4, 2], "clip": true}, "encoding": {"x": {"field": "m", "type": "quantitative", "axis": null}, "y": {"field": "v", "type": "quantitative"}, "detail": {"field": "k"}}},
   {"data": {"name": "c3"}, "transform": [{"filter": {"field": "k", "oneOf": ["ud", "up"]}}], "mark": {"type": "line", "color": "#4f4fff", "strokeWidth": 1.1, "strokeDash": [4, 2], "clip": true}, "encoding": {"x": {"field": "m", "type": "quantitative", "axis": null}, "y": {"field": "v", "type": "quantitative"}, "detail": {"field": "k"}}},
   {"data": {"name": "c3"}, "transform": [{"filter": "datum.k == 'bs'"}], "mark": {"type": "line", "color": "#1e1e1e", "strokeWidth": 1.1, "clip": true}, "encoding": {"x": {"field": "m", "type": "quantitative", "axis": null}, "y": {"field": "v", "type": "quantitative"}}},
   {"data": {"name": "c3"}, "transform": [{"filter": "datum.k == 'us'"}], "mark": {"type": "line", "color": "#4646ff", "strokeWidth": 1.1, "clip": true}, "encoding": {"x": {"field": "m", "type": "quantitative", "axis": null}, "y": {"field": "v", "type": "quantitative"}}},
   {"data": {"name": "p3"}, "transform": [{"filter": "datum.g == 'lit'"}], "mark": {"type": "rule", "color": "#111111", "strokeWidth": 1.1, "clip": true}, "encoding": {"x": {"field": "m", "type": "quantitative", "axis": null}, "y": {"field": "lo", "type": "quantitative"}, "y2": {"field": "hi"}}},
   {"data": {"name": "p3"}, "transform": [{"filter": "datum.g == 'ours'"}], "mark": {"type": "rule", "color": "#0000ff", "strokeWidth": 1.1, "clip": true}, "encoding": {"x": {"field": "m", "type": "quantitative", "axis": null}, "y": {"field": "lo", "type": "quantitative"}, "y2": {"field": "hi"}}},
   {"data": {"name": "p3"}, "transform": [{"filter": "datum.g == 'lit'"}, {"fold": ["lo", "hi"], "as": ["w", "e"]}], "mark": {"type": "point", "shape": "M-1,0L1,0", "filled": false, "color": "#111111", "size": 36, "strokeWidth": 1.1, "opacity": 1, "clip": true}, "encoding": {"x": {"field": "m", "type": "quantitative", "axis": null}, "y": {"field": "e", "type": "quantitative"}}},
   {"data": {"name": "p3"}, "transform": [{"filter": "datum.g == 'ours'"}, {"fold": ["lo", "hi"], "as": ["w", "e"]}], "mark": {"type": "point", "shape": "M-1,0L1,0", "filled": false, "color": "#0000ff", "size": 36, "strokeWidth": 1.1, "opacity": 1, "clip": true}, "encoding": {"x": {"field": "m", "type": "quantitative", "axis": null}, "y": {"field": "e", "type": "quantitative"}}},
   {"data": {"name": "p3"}, "transform": [{"filter": "datum.g == 'lit'"}], "mark": {"type": "point", "filled": true, "size": 24, "opacity": 1, "strokeWidth": 0, "clip": true}, "encoding": {"x": {"field": "m", "type": "quantitative", "axis": null}, "y": {"field": "v", "type": "quantitative"}, "fill": {"field": "g", "type": "nominal", "scale": {"domain": ["ours", "lit"], "range": ["#0000ff", "#000000"]}, "legend": {"legendX": -41, "labelExpr": "datum.value == 'ours' ? 'Our detections (mc=0.22±0.17M⊙; σ=0.6±0.15; α=-2.55±0.07)' : 'Sₗᵢₜ members (mc=0.22±0.14M⊙; σ=0.45±0.17; α=-3.38±0.12)'"}}}},
   {"data": {"name": "p3"}, "transform": [{"filter": "datum.g == 'ours'"}], "mark": {"type": "point", "filled": true, "size": 10, "opacity": 1, "strokeWidth": 0, "clip": true}, "encoding": {"x": {"field": "m", "type": "quantitative", "axis": null}, "y": {"field": "v", "type": "quantitative"}, "fill": {"field": "g", "type": "nominal", "scale": {"domain": ["ours", "lit"], "range": ["#0000ff", "#000000"]}, "legend": {"legendX": -41, "labelExpr": "datum.value == 'ours' ? 'Our detections (mc=0.22±0.17M⊙; σ=0.6±0.15; α=-2.55±0.07)' : 'Sₗᵢₜ members (mc=0.22±0.14M⊙; σ=0.45±0.17; α=-3.38±0.12)'"}}}}
  ]
 },
 {
  "width": 336, "height": 56.5,
  "data": {"name": "f3"},
  "layer": [
   {"data": {"values": [{"f": 1}]}, "mark": {"type": "rule", "color": "#222222", "strokeWidth": 0.9}, "encoding": {"y": {"field": "f", "type": "quantitative", "scale": {"domain": [-0.09, 1.085], "nice": false, "zero": false}, "axis": {"values": [0, 0.5, 1], "format": ".1f", "labelFontSize": 7, "labelColor": "#555", "title": "f", "titleFontStyle": "italic", "titleFontSize": 9, "labelPadding": 7, "minExtent": 22, "maxExtent": 22, "titlePadding": 0}}}},
   {"transform": [{"filter": "datum.k == 's'"}], "mark": {"type": "line", "color": "#333333", "strokeWidth": 1.1}, "encoding": {"x": {"field": "m", "type": "quantitative", "scale": {"type": "log", "domain": [0.01, 12], "nice": false}, "axis": {"values": [0.01, 0.08, 0.2, 1, 5, 10], "format": "~g", "labelFontSize": 7.5, "labelColor": "#555", "labelPadding": 2, "title": "m[M⊙]", "titleFontSize": 12, "titlePadding": 1}}, "y": {"field": "f", "type": "quantitative"}}},
   {"transform": [{"filter": "datum.k == 'd'"}], "mark": {"type": "line", "color": "#555555", "strokeWidth": 1.1, "strokeDash": [3, 2]}, "encoding": {"x": {"field": "m", "type": "quantitative"}, "y": {"field": "f", "type": "quantitative"}}}
  ]
 }
 ]
}
]
}
